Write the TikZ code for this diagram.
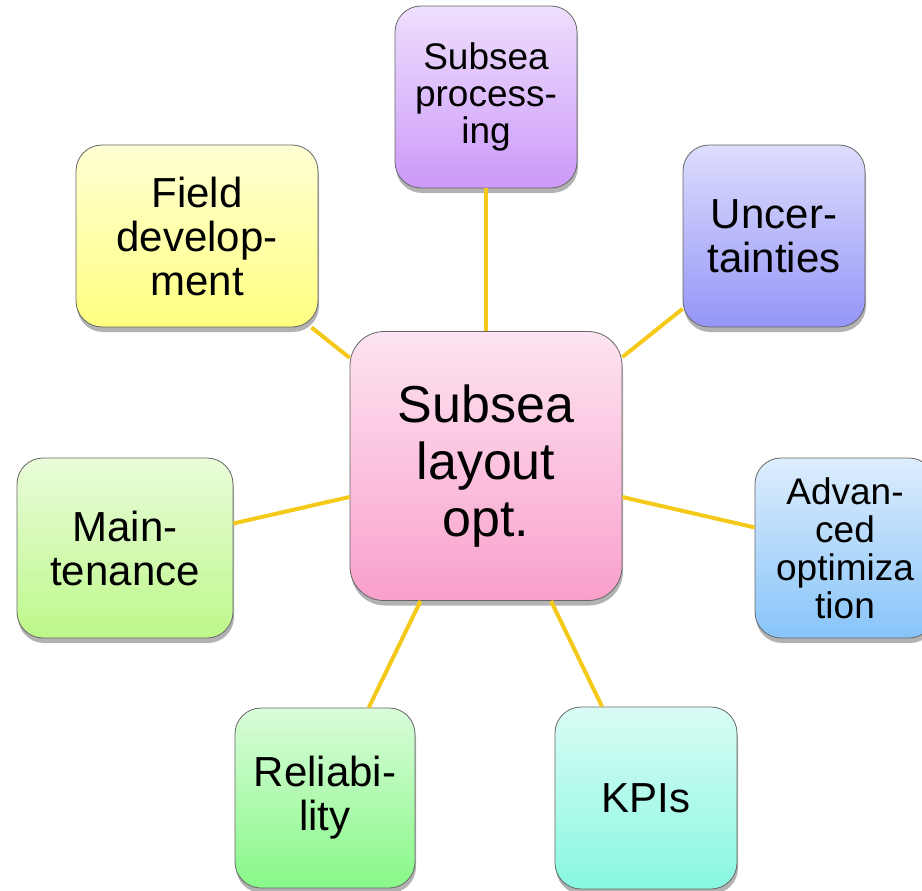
\documentclass[tikz,border=0pt]{standalone}
\usepackage{fontspec}
\setmainfont{Liberation Sans}
\usetikzlibrary{shadows}
\usepackage{xcolor}

\definecolor{linea}{HTML}{F5C91A}
\definecolor{rosaA}{HTML}{FDE4F1}\definecolor{rosaB}{HTML}{F9A0CB}
\definecolor{moradoA}{HTML}{EEDFFD}\definecolor{moradoB}{HTML}{CC99F9}
\definecolor{amarilloA}{HTML}{FFFFD4}\definecolor{amarilloB}{HTML}{FFFF80}
\definecolor{lilaA}{HTML}{DDDDFD}\definecolor{lilaB}{HTML}{9595F8}
\definecolor{limaA}{HTML}{E9FCDA}\definecolor{limaB}{HTML}{BDF88A}
\definecolor{azulA}{HTML}{DDEDFD}\definecolor{azulB}{HTML}{88C4F9}
\definecolor{verdeA}{HTML}{D9FCD9}\definecolor{verdeB}{HTML}{88F888}
\definecolor{turquesaA}{HTML}{D9FCF5}\definecolor{turquesaB}{HTML}{88F8E0}

\begin{document}
\begin{tikzpicture}[x=1pt, y=-1pt,
			 caja/.style={draw=black!60, line width=0.8pt, rounded corners=26pt, align=center, inner sep=0pt,
			 minimum width=182pt, minimum height=182pt, font=\fontsize{42}{44}\selectfont,
			 drop shadow={shadow xshift=1pt, shadow yshift=-5pt, opacity=0.3, fill=black}},
			 arista/.style={linea, line width=4pt}
  		]
	\useasboundingbox (0,0) rectangle (922,891);

	%Creamos las cajas

		\node[caja, minimum width=272pt, minimum height=269pt, rounded corners=34pt, font=\fontsize{52}{57}\selectfont,
		      top color=rosaA, bottom color=rosaB] (c) at (486,466) {Subsea\\layout\\opt.};
		\node[caja, font=\fontsize{37}{37}\selectfont, top color=moradoA, bottom color=moradoB] (sp) at (486,97) {Subsea\\process-\\ing};
		\node[caja, minimum width=242pt, top color=amarilloA, bottom color=amarilloB] (fd) at (197,236) {Field\\develop-\\ment};
		\node[caja, top color=lilaA, bottom color=lilaB] (un) at (774,236) {Uncer-\\tainties};
		\node[caja, minimum width=216pt, minimum height=180pt, top color=limaA, bottom color=limaB] (mt) at (125,548) {Main-\\tenance};
		\node[caja, minimum width=180pt, minimum height=180pt, font=\fontsize{37}{38}\selectfont,
		      top color=azulA, bottom color=azulB] (ao) at (845,548) {Advan-\\ced\\optimiza\\tion};
		\node[caja, minimum width=180pt, minimum height=180pt, top color=verdeA, bottom color=verdeB] (rl) at (325,798) {Reliabi-\\lity};
		\node[caja, top color=turquesaA, bottom color=turquesaB] (kp) at (646,798) {KPIs};

	%Aristas desde el centro
		\draw[arista] (c) -- (sp);
		\draw[arista] (c) -- (fd);
		\draw[arista] (c) -- (un);
		\draw[arista] (c) -- (mt);
		\draw[arista] (c) -- (ao);
		\draw[arista] (c) -- (rl);
		\draw[arista] (c) -- (kp);
	\end{tikzpicture}
\end{document}
